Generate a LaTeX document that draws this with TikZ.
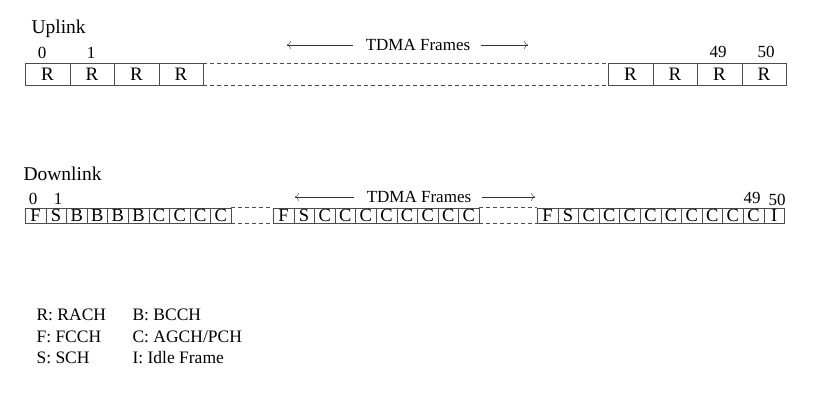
\documentclass[tikz,border=0pt]{standalone}
\usepackage{fontspec}
\setmainfont{Liberation Serif}
\usetikzlibrary{arrows.meta}
\tikzset{
    >={To[length=4pt,width=8pt]},
    ucell/.style={draw=black!70, minimum width=44.5, minimum height=22, inner sep=0pt, anchor=west, font=\fontsize{19}{20}\selectfont},
    dcell/.style={draw=black!70, minimum width=20.6, minimum height=15, inner sep=0pt, anchor=west, font=\fontsize{18.5}{18}\selectfont},
    gap/.style={draw=black!70, dash pattern=on 4pt off 3pt},
    head/.style={anchor=base west, font=\fontsize{19.5}{21}\selectfont},
    lbl/.style={anchor=base west, font=\fontsize{17.5}{19}\selectfont},
    num/.style={anchor=base, inner sep=1pt, font=\fontsize{17}{18}\selectfont},
    frames/.style={font=\fontsize{17}{19}\selectfont},
}
\begin{document}
\begin{tikzpicture}[x=1pt,y=-1pt]
    \useasboundingbox (0,0) rectangle (821,407);
    % uplink
    \node[head] (uplink) at (28,33.5) {Uplink};
    \foreach \i in {0,...,3} \node[ucell] (ua\i) at (25+\i*44.5,74) {R};
    \foreach \i in {0,...,3} \node[ucell] (ub\i) at (608+\i*44.5,74) {R};
    \draw[gap] (ua3.north east) -- (ub0.north west);
    \draw[gap] (ua3.south east) -- (ub0.south west);
    \node[num] (un0) at (42,58.5) {0};
    \node[num] (un1) at (91,58.5) {1};
    \node[num] (un49) at (718,57.5) {49};
    \node[num] (un50) at (766,57.5) {50};
    \node[frames] (uframes) at (418,45) {TDMA Frames};
    \coordinate (ul) at (287,45);
    \coordinate (ur) at (528,45);
    \draw[->, black!80] ([xshift=-9]uframes.west) -- (ul);
    \draw[->, black!80] ([xshift=7]uframes.east) -- (ur);
    % downlink
    \node[head] (downlink) at (20,180.5) {Downlink};
    \foreach \l [count=\i from 0] in {F,S,B,B,B,B,C,C,C,C}
        \node[dcell] (da\i) at (25+\i*20.6,215.3) {\l};
    \foreach \l [count=\i from 0] in {F,S,C,C,C,C,C,C,C,C}
        \node[dcell] (db\i) at (273+\i*20.6,215.3) {\l};
    \foreach \l [count=\i from 0] in {F,S,C,C,C,C,C,C,C,C,C,I}
        \node[dcell] (dc\i) at (537+\i*20.6,215.3) {\l};
    \draw[gap] (da9.north east) -- (db0.north west);
    \draw[gap] (da9.south east) -- (db0.south west);
    \draw[gap] (db9.north east) -- (dc0.north west);
    \draw[gap] (db9.south east) -- (dc0.south west);
    \node[num] (dn0) at (33,204.5) {0};
    \node[num] (dn1) at (58,204.5) {1};
    \node[num] (dn49) at (752,203.5) {49};
    \node[num] (dn50) at (777,205) {50};
    \node[frames] (dframes) at (419,197) {TDMA Frames};
    \coordinate (dl) at (295,197);
    \coordinate (dr) at (535,197);
    \draw[->, black!80] ([xshift=-9]dframes.west) -- (dl);
    \draw[->, black!80] ([xshift=7]dframes.east) -- (dr);
    % legend
    \node[lbl] (kr) at (33,320.5) {R: RACH};
    \node[lbl] (kf) at (33,342) {F: FCCH};
    \node[lbl] (ks) at (33,363) {S: SCH};
    \node[lbl] (kb) at (129,320.5) {B: BCCH};
    \node[lbl] (kc) at (129,342) {C: AGCH/PCH};
    \node[lbl] (ki) at (129,363) {I: Idle Frame};
\end{tikzpicture}
\end{document}
